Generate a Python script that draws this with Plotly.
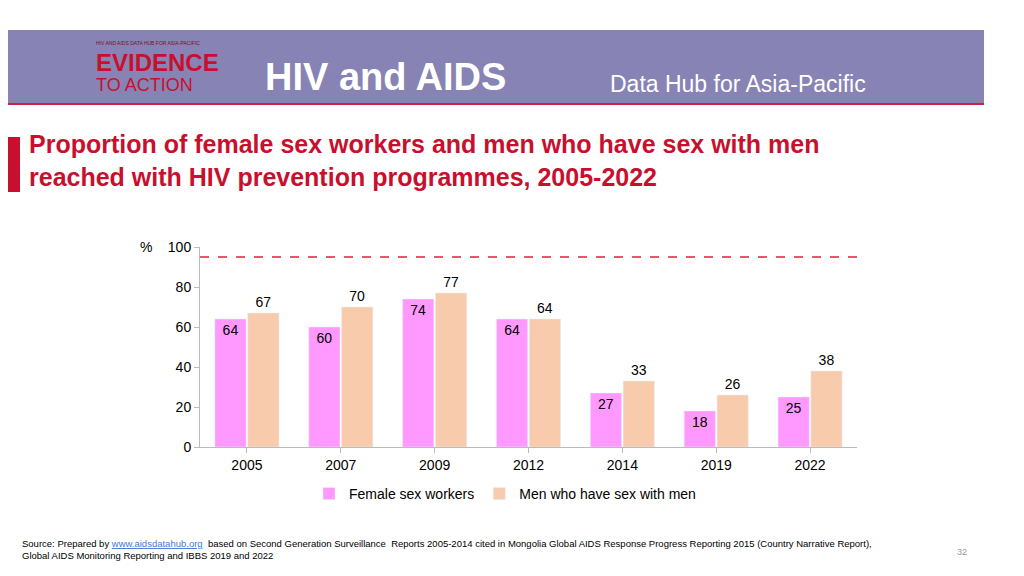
import plotly.graph_objects as go

years = ["2005", "2007", "2009", "2012", "2014", "2019", "2022"]
fsw = [64, 60, 74, 64, 27, 18, 25]
msm = [67, 70, 77, 64, 33, 26, 38]
target = 95

W, H = 1024, 576
OFF = 8  # page body margin
L, R, T, B = 200 - OFF, 167 + OFF, 247 - OFF, 129 + OFF


def px(x):
    return (x - OFF - L) / (W - L - R)


def py(y):
    return (H - B - (y - OFF)) / (H - T - B)


fig = go.Figure()
fig.add_trace(go.Bar(x=years, y=fsw, name="Female sex workers", marker_color="#FF99FF",
                     text=fsw, textposition="inside", insidetextanchor="end",
                     textfont=dict(color="black", size=14)))
fig.add_trace(go.Bar(x=years, y=msm, name="Men who have sex with men", marker_color="#F8CBAD",
                     text=msm, textposition="outside", textfont=dict(color="black", size=14),
                     cliponaxis=False))

shapes = [
    dict(type="rect", xref="paper", yref="paper", x0=px(0), x1=px(984), y0=py(104), y1=py(30),
         fillcolor="#8783B5", line_width=0, layer="below"),
    dict(type="line", xref="paper", yref="paper", x0=px(0), x1=px(984), y0=py(104), y1=py(104),
         line=dict(color="#D0213A", width=2)),
    dict(type="rect", xref="paper", yref="paper", x0=px(0), x1=px(20), y0=py(192), y1=py(137),
         fillcolor="#C8102E", line_width=0),
    dict(type="line", xref="paper", yref="y", x0=0, x1=px(857), y0=target, y1=target,
         line=dict(color="#E0203C", width=1.5, dash="dash")),
]

ann = [
    dict(x=px(263), y=py(77), text="<b>HIV and AIDS</b>", font=dict(size=38, color="white")),
    dict(x=px(608), y=py(84), text="Data Hub for Asia-Pacific", font=dict(size=23, color="white")),
    dict(x=px(94), y=py(62), text="<b>EVIDENCE</b>", font=dict(size=24, color="#C8102E")),
    dict(x=px(94), y=py(85), text="TO ACTION", font=dict(size=18, color="#C8102E")),
    dict(x=px(94), y=py(43), text="HIV AND AIDS DATA HUB FOR ASIA-PACIFIC", font=dict(size=5, color="#7a1020")),
    dict(x=px(27), y=py(160), text="<b>Proportion of female sex workers and men who have sex with men<br>reached with HIV prevention programmes, 2005-2022</b>",
         font=dict(size=25, color="#C8102E"), align="left"),
    dict(x=px(138), y=py(247), text="%", font=dict(size=14, color="black")),
    dict(x=px(20), y=py(549), text='Source: Prepared by <a href="http://www.aidsdatahub.org"><u>www.aidsdatahub.org</u></a>  based on Second Generation Surveillance  Reports 2005-2014 cited in Mongolia Global AIDS Response Progress Reporting 2015 (Country Narrative Report),<br>Global AIDS Monitoring Reporting and IBBS 2019 and 2022',
         font=dict(size=9.5, color="black"), align="left"),
    dict(x=px(955), y=py(552), text="32", font=dict(size=9, color="#999999")),
]
for a in ann:
    a.update(xref="paper", yref="paper", showarrow=False, xanchor="left", yanchor="middle")

fig.update_layout(
    width=W, height=H, margin=dict(l=L, r=R, t=T, b=B),
    paper_bgcolor="white", plot_bgcolor="white",
    font=dict(family="Liberation Sans, Arial", size=14, color="black"),
    barmode="group", bargap=0.3, bargroupgap=0.05,
    shapes=shapes, annotations=ann,
    xaxis=dict(showline=True, linecolor="#BBBBBB", ticks="outside", tickcolor="#BBBBBB", ticklen=5),
    yaxis=dict(range=[0, 100], dtick=20, showgrid=False, showline=True, linecolor="#BBBBBB",
               ticks="outside", tickcolor="#BBBBBB", ticklen=5, zeroline=False),
    legend=dict(orientation="h", x=px(505), xanchor="center", y=py(494), yanchor="middle",
                font=dict(size=14), itemwidth=30),
)
fig.write_html("out.html")
